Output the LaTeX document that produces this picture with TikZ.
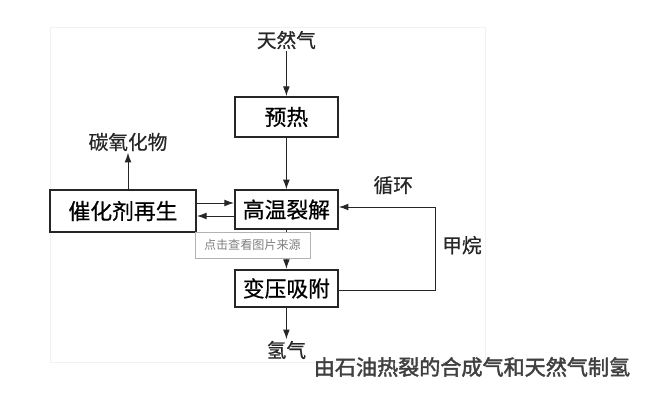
\documentclass[tikz,border=0pt]{standalone}
\usepackage{fontspec}
\setmainfont[FakeBold=0.6]{Noto Sans CJK SC}
\newfontfamily\capfont[FakeBold=2]{Noto Sans CJK SC}
\newfontfamily\markfont{Noto Sans CJK SC}
\usetikzlibrary{positioning,arrows.meta}

\begin{document}
\begin{tikzpicture}[
        box/.style={rectangle, minimum width=2.575cm, minimum height=0.97cm, align=center, draw=black!85, line width=1.3pt, fill=white, font=\fontsize{15.5}{17}\selectfont},
        label/.style={font=\fontsize{14}{16}\selectfont, text=black!85, inner sep=1pt},
        arrow/.style={line width=0.7pt, draw=black!85, -{Latex[length=2.4mm,width=1.7mm]}}
    ]
        \useasboundingbox (0,0) rectangle (16.25,-10);
        \draw[black!5, line width=0.6pt] (1.25,-0.675) rectangle (12.125,-9.05);

        \node (gas) [label] at (7.16,-1.0) {天然气};
        \node (preheat) [box, minimum height=1.0cm] at (7.16,-2.925) {预热};
        \node (crack) [box] at (7.16,-5.24) {高温裂解};
        \node (psa) [box, minimum height=0.93cm] at (7.16,-7.21) {变压吸附};
        \node (regen) [box, minimum width=3.65cm, minimum height=1.05cm] at (3.075,-5.275) {催化剂再生};
        \node (cox) [label] at (3.2,-3.55) {碳氧化物};
        \node (h2) [label] at (7.16,-8.75) {氢气};
        \node (loop) [label] at (9.83,-4.63) {循环};
        \node (methane) [label] at (11.55,-6.13) {甲烷};
        \coordinate (c1) at (10.875,-7.25);
        \coordinate (c2) at (10.875,-5.175);

        \draw[arrow] (gas) -- (preheat);
        \draw[arrow] (preheat) -- (crack);
        \draw[arrow] (crack) -- (psa);
        \draw[arrow] (psa) -- (h2);
        \draw[arrow] (regen.north -| cox) -- (cox);
        \draw[arrow] (regen.east |- 0,-5.075) -- (crack.west |- 0,-5.075);
        \draw[arrow] (crack.west |- 0,-5.4) -- (regen.east |- 0,-5.4);
        \draw[arrow] (psa.east |- c1) -- (c1) -- (c2) -- (crack.east |- c2);

        \node (mark) [draw=black!30, fill=white, minimum width=2.875cm, minimum height=0.65cm, text=black!50, font=\markfont\fontsize{8.6}{10}\selectfont] at (6.31,-6.125) {点击查看图片来源};
        \node (caption) [text=black!75, font=\capfont\fontsize{15}{18}\selectfont] at (11.8,-9.175) {由石油热裂的合成气和天然气制氢};
    \end{tikzpicture}
\end{document}
